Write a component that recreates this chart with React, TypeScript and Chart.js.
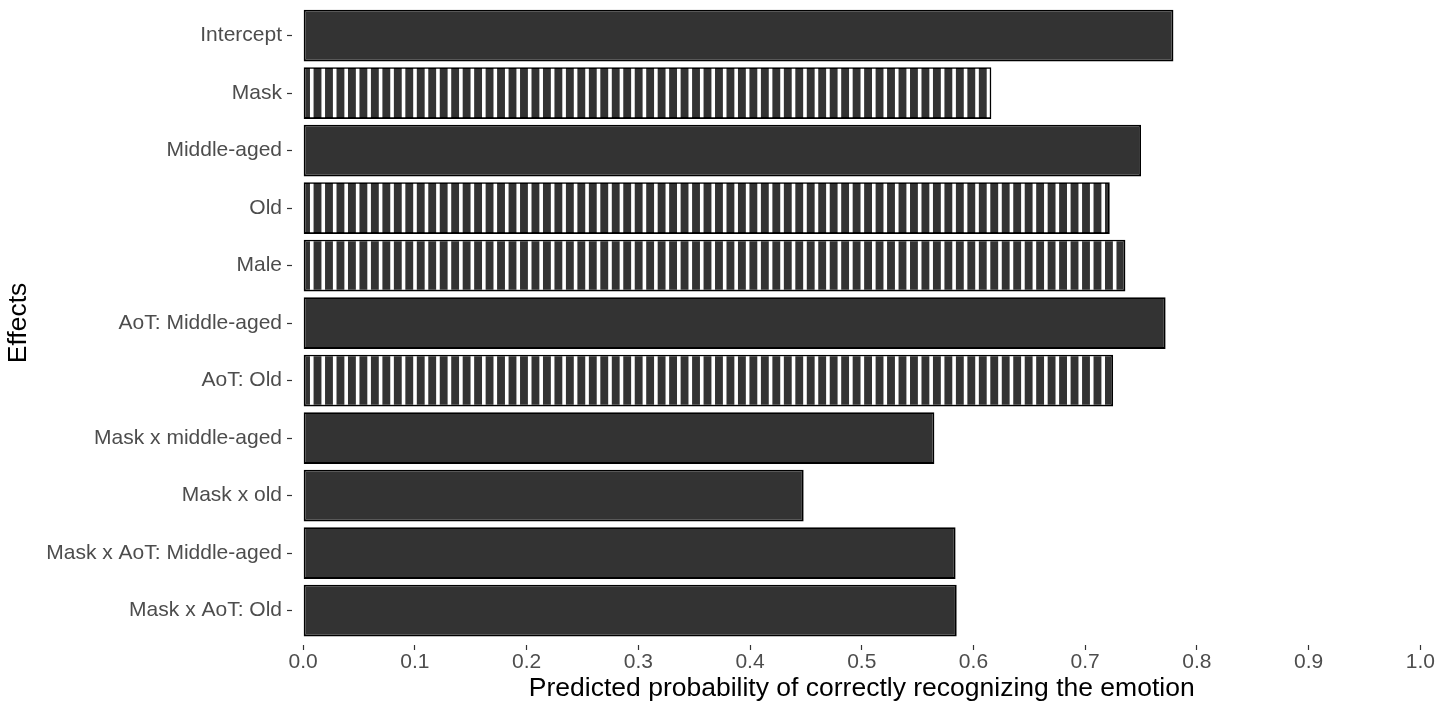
import React, { useEffect, useRef } from "react";
import { Chart, registerables } from "chart.js";

Chart.register(...registerables);

const categories = [
  "Intercept",
  "Mask",
  "Middle-aged",
  "Old",
  "Male",
  "AoT: Middle-aged",
  "AoT: Old",
  "Mask x middle-aged",
  "Mask x old",
  "Mask x AoT: Middle-aged",
  "Mask x AoT: Old",
];
const probabilities = [0.779, 0.616, 0.750, 0.722, 0.736, 0.772, 0.725, 0.565, 0.448, 0.584, 0.585];
const striped = [false, true, false, true, true, false, true, false, false, false, false];
const xTickValues = [0, 0.1, 0.2, 0.3, 0.4, 0.5, 0.6, 0.7, 0.8, 0.9, 1.0];
const xTickLabels = ["0.0", "0.1", "0.2", "0.3", "0.4", "0.5", "0.6", "0.7", "0.8", "0.9", "1.0"];
const xTitle = "Predicted probability of correctly recognizing the emotion";
const yTitle = "Effects";

const FONT = "'Liberation Sans', Arial, sans-serif";

const stripePlugin = {
  id: "stripes",
  afterDatasetsDraw(chart: any) {
    const meta = chart.getDatasetMeta(0);
    const ctx = chart.ctx;
    const xScale = chart.scales.x;
    const origin = xScale.getPixelForValue(0);
    const period = 11.47;
    const stripeW = 3.6;
    const firstOffset = 6.8;
    meta.data.forEach((el: any, i: number) => {
      if (!striped[i]) return;
      const p = el.getProps(["x", "y", "base", "height"], true);
      const left = Math.min(p.x, p.base);
      const right = Math.max(p.x, p.base);
      const top = p.y - p.height / 2;
      const inset = 1.6;
      ctx.save();
      ctx.beginPath();
      ctx.rect(left + inset, top + inset, right - left - 2 * inset, p.height - 2 * inset);
      ctx.clip();
      ctx.fillStyle = "#ffffff";
      for (let sx = origin + firstOffset; sx < right; sx += period) {
        ctx.fillRect(sx, top, stripeW, p.height);
      }
      ctx.restore();
    });
  },
};

export default function App() {
  const canvasRef = useRef<HTMLCanvasElement | null>(null);

  useEffect(() => {
    const canvas = canvasRef.current;
    if (!canvas) return;
    const chart = new Chart(canvas, {
      type: "bar",
      data: {
        datasets: [
          {
            data: categories.map((_, i) => ({ x: probabilities[i], y: i })),
            backgroundColor: "#333333",
            borderColor: "#000000",
            borderWidth: 1.8,
            borderSkipped: false,
            barPercentage: 0.9,
            categoryPercentage: 1,
          } as any,
        ],
      },
      options: {
        indexAxis: "y",
        animation: false,
        responsive: false,
        maintainAspectRatio: false,
        layout: { padding: { left: 0, top: 1, right: 23.5, bottom: 0 } },
        plugins: {
          legend: { display: false },
          tooltip: { enabled: false },
          title: { display: false },
        },
        scales: {
          x: {
            type: "linear",
            position: "bottom",
            min: -0.01,
            max: 1.01,
            offset: false,
            afterBuildTicks: (scale: any) => {
              scale.ticks = xTickValues.map((v) => ({ value: v }));
            },
            afterFit: (scale: any) => {
              scale.height = 59;
              scale.paddingLeft = 0;
              scale.paddingRight = 0;
            },
            grid: {
              display: true,
              offset: false,
              drawOnChartArea: false,
              drawTicks: true,
              tickLength: 5,
              tickColor: "#333333",
              tickWidth: 1.2,
            },
            border: { display: false },
            ticks: {
              autoSkip: false,
              maxRotation: 0,
              padding: 0,
              color: "#4D4D4D",
              font: { family: FONT, size: 21 },
              callback: (v: any) => {
                const idx = xTickValues.findIndex((t) => Math.abs(t - Number(v)) < 1e-9);
                return idx >= 0 ? xTickLabels[idx] : "";
              },
            },
            title: {
              display: true,
              text: xTitle,
              color: "#000000",
              font: { family: FONT, size: 26.5, lineHeight: 1 },
              padding: { top: 0, bottom: 2 },
            },
          },
          y: {
            type: "linear",
            position: "left",
            reverse: true,
            min: -0.6,
            max: 10.6,
            offset: false,
            afterBuildTicks: (scale: any) => {
              scale.ticks = categories.map((_, i) => ({ value: i }));
            },
            afterFit: (scale: any) => {
              scale.width = 292;
              scale.paddingTop = 0;
              scale.paddingBottom = 0;
            },
            grid: {
              display: true,
              offset: false,
              drawOnChartArea: false,
              drawTicks: true,
              tickLength: 5,
              tickColor: "#333333",
              tickWidth: 1.2,
            },
            border: { display: false },
            ticks: {
              autoSkip: false,
              padding: 5,
              color: "#4D4D4D",
              font: { family: FONT, size: 21 },
              callback: (v: any) => categories[Math.round(Number(v))] ?? "",
            },
            title: {
              display: true,
              text: yTitle,
              color: "#000000",
              font: { family: FONT, size: 26.5, lineHeight: 1 },
              padding: { top: 5.5, bottom: 0 },
            },
          },
        },
      } as any,
      plugins: [stripePlugin],
    });
    return () => chart.destroy();
  }, []);

  return (
    <div style={{ position: "absolute", left: 0, top: 0, width: 1455, height: 704, background: "#ffffff" }}>
      <canvas ref={canvasRef} width={1455} height={704} style={{ display: "block", width: 1455, height: 704 }} />
    </div>
  );
}
